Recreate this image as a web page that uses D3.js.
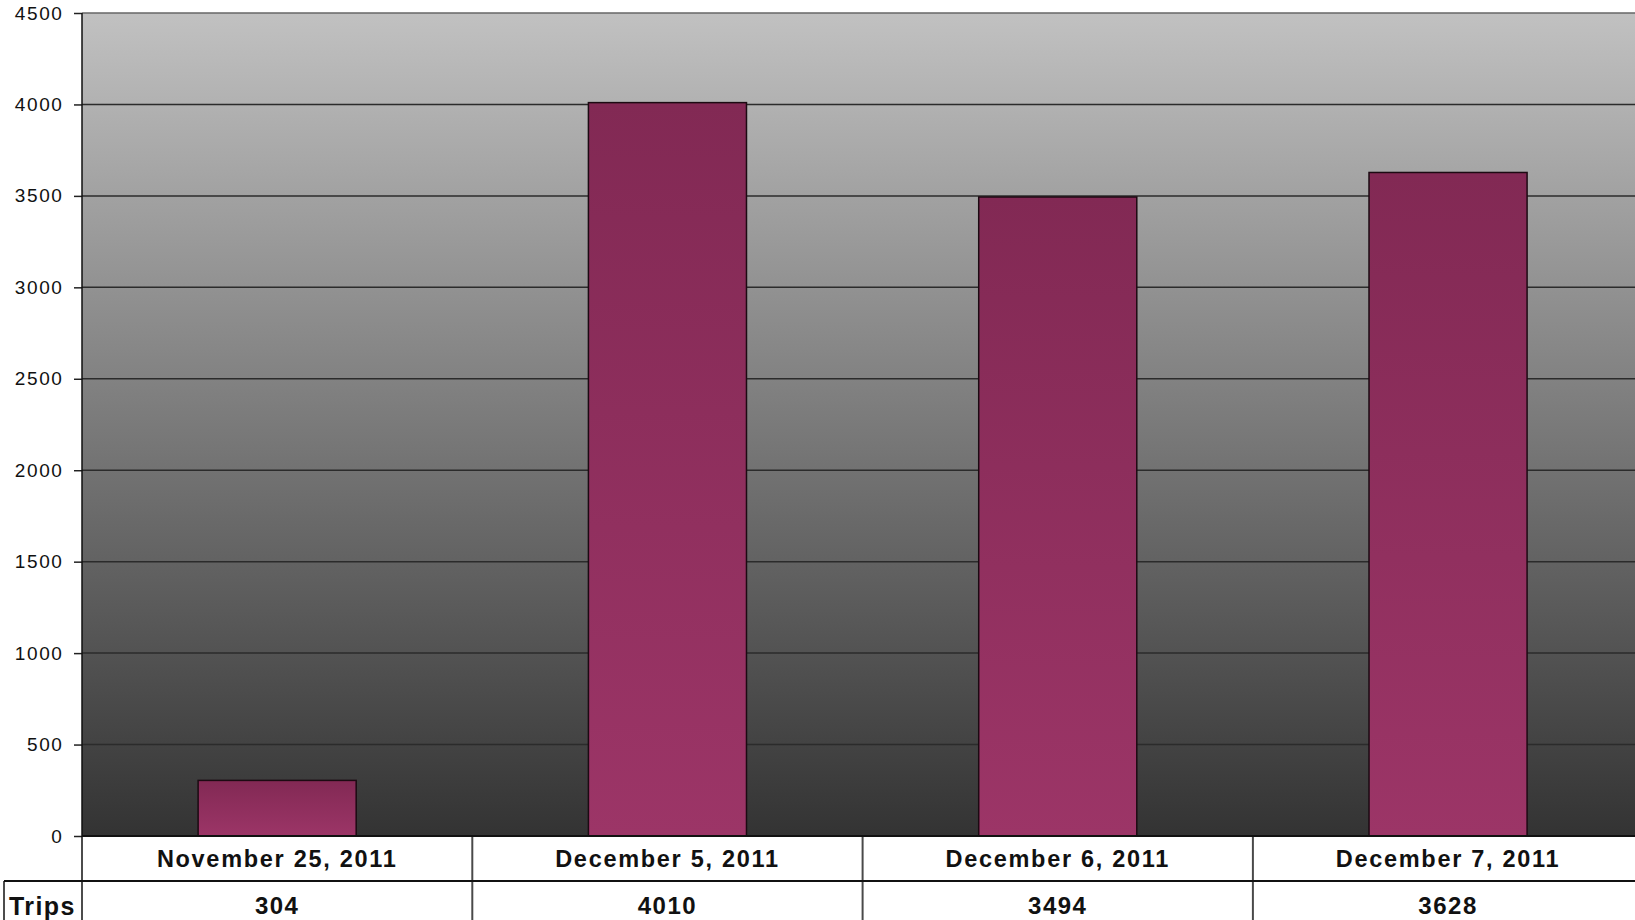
<!DOCTYPE html>
<html>
<head>
<meta charset="utf-8">
<script src="https://cdn.jsdelivr.net/npm/d3@7"></script>
<style>
    body { margin: 0; background: #fff; }
    svg { display: block; font-family: "Liberation Sans", Arial, sans-serif; }
</style>
</head>
<body>
<div id="chart"></div>
<script>
// data
const categories = ['November 25, 2011', 'December 5, 2011', 'December 6, 2011', 'December 7, 2011'];
const trips = [304, 4010, 3494, 3628];
const yTicks = [0, 500, 1000, 1500, 2000, 2500, 3000, 3500, 4000, 4500];
const seriesName = 'Trips';

const width = 1635;
const height = 920;

const plot = { left: 82, top: 13, bottom: 836, step: 390.3 };
const rowH = 45;

const svg = d3.select('#chart')
    .append('svg')
    .attr('width', width)
    .attr('height', height);

// gradients
const defs = svg.append('defs');
const bg = defs.append('linearGradient').attr('id', 'bgGrad')
    .attr('x1', 0).attr('y1', 0).attr('x2', 0).attr('y2', 1);
bg.append('stop').attr('offset', '0%').attr('stop-color', '#c1c1c1');
bg.append('stop').attr('offset', '100%').attr('stop-color', '#333333');

const barGrad = defs.append('linearGradient').attr('id', 'barGrad')
    .attr('x1', 0).attr('y1', 0).attr('x2', 0).attr('y2', 1);
barGrad.append('stop').attr('offset', '0%').attr('stop-color', '#822954');
barGrad.append('stop').attr('offset', '100%').attr('stop-color', '#9c3567');

// scales
const x = d3.scaleBand()
    .domain(categories)
    .range([plot.left, plot.left + plot.step * categories.length])
    .padding(0);

const y = d3.scaleLinear()
    .domain([0, d3.max(yTicks)])
    .range([plot.bottom, plot.top]);

const barW = x.bandwidth() * 0.405;

// plot background
svg.append('rect')
    .attr('x', plot.left)
    .attr('y', plot.top)
    .attr('width', x.range()[1] - plot.left)
    .attr('height', plot.bottom - plot.top)
    .attr('fill', 'url(#bgGrad)');

// gridlines
svg.append('g')
    .selectAll('line')
    .data(yTicks.filter(d => d > 0))
    .enter()
    .append('line')
    .attr('x1', plot.left)
    .attr('x2', x.range()[1])
    .attr('y1', d => y(d))
    .attr('y2', d => y(d))
    .attr('stroke', (d, i, n) => i === n.length - 1 ? '#666' : '#2b2b2b')
    .attr('stroke-width', 1.5);

// bars
svg.append('g')
    .selectAll('rect')
    .data(trips)
    .enter()
    .append('rect')
    .attr('x', (d, i) => x(categories[i]) + (x.bandwidth() - barW) / 2)
    .attr('y', d => y(d))
    .attr('width', barW)
    .attr('height', d => plot.bottom - y(d))
    .attr('fill', 'url(#barGrad)')
    .attr('stroke', '#1c0a12')
    .attr('stroke-width', 1.5);

// y axis
const yAxis = d3.axisLeft(y)
    .tickValues(yTicks)
    .tickSize(8)
    .tickPadding(12)
    .tickFormat(d3.format('d'));

const gy = svg.append('g')
    .attr('transform', `translate(${plot.left}, 0)`)
    .call(yAxis);
gy.select('.domain').remove();
gy.selectAll('.tick line').attr('stroke', '#222').attr('stroke-width', 1.5);
gy.selectAll('.tick text')
    .attr('fill', '#111')
    .attr('dx', 1.5)
    .style('font-size', '19px')
    .style('letter-spacing', '1.6px')
    .style('font-family', '"Liberation Sans", Arial, sans-serif');

// data table
const table = svg.append('g');
const tableBottom = plot.bottom + rowH * 2;

// vertical axis line through the table
table.append('line')
    .attr('x1', plot.left).attr('x2', plot.left)
    .attr('y1', plot.top).attr('y2', height)
    .attr('stroke', '#111').attr('stroke-width', 1.5);

// category dividers
table.selectAll('.divider')
    .data(categories.slice(1))
    .enter()
    .append('line')
    .attr('class', 'divider')
    .attr('x1', d => x(d)).attr('x2', d => x(d))
    .attr('y1', plot.bottom).attr('y2', tableBottom)
    .attr('stroke', '#4a4a4a').attr('stroke-width', 2);

// baseline and row line
table.append('line')
    .attr('x1', plot.left).attr('x2', width)
    .attr('y1', plot.bottom).attr('y2', plot.bottom)
    .attr('stroke', '#111').attr('stroke-width', 2);

table.append('line')
    .attr('x1', 4).attr('x2', width)
    .attr('y1', plot.bottom + rowH).attr('y2', plot.bottom + rowH)
    .attr('stroke', '#111').attr('stroke-width', 2);

table.append('line')
    .attr('x1', 4).attr('x2', 4)
    .attr('y1', plot.bottom + rowH).attr('y2', tableBottom)
    .attr('stroke', '#111').attr('stroke-width', 1.5);

// category labels
table.selectAll('.cat')
    .data(categories)
    .enter()
    .append('text')
    .attr('class', 'cat')
    .attr('x', d => x(d) + x.bandwidth() / 2)
    .attr('y', plot.bottom + 31)
    .attr('text-anchor', 'middle')
    .style('font-size', '23.5px')
    .style('font-weight', 'bold')
    .style('letter-spacing', '1.7px')
    .attr('fill', '#111')
    .text(d => d);

// values row
table.selectAll('.val')
    .data(trips)
    .enter()
    .append('text')
    .attr('class', 'val')
    .attr('x', (d, i) => x(categories[i]) + x.bandwidth() / 2)
    .attr('y', plot.bottom + rowH + 33)
    .attr('text-anchor', 'middle')
    .style('font-size', '24px')
    .style('font-weight', 'bold')
    .style('letter-spacing', '1.5px')
    .attr('fill', '#111')
    .text(d => d);

table.append('text')
    .attr('x', 9)
    .attr('y', plot.bottom + rowH + 34)
    .style('font-size', '25px')
    .style('font-weight', 'bold')
    .style('letter-spacing', '1.4px')
    .attr('fill', '#111')
    .text(seriesName);
</script>
</body>
</html>
